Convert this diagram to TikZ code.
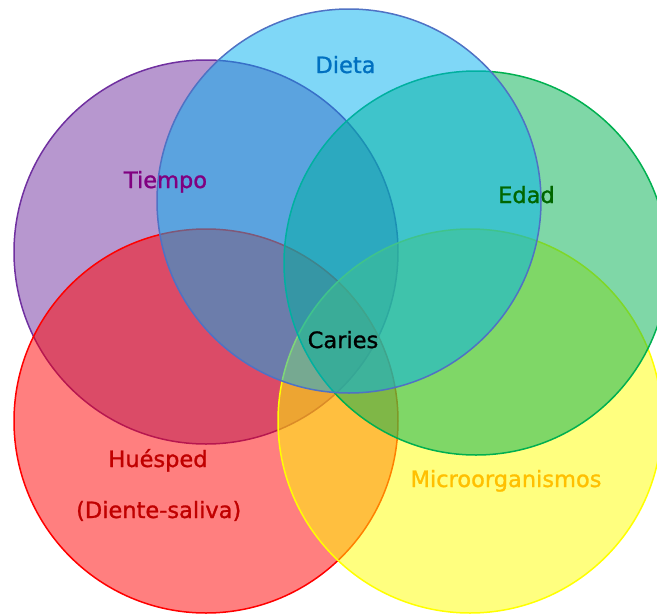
\documentclass[tikz,border=0pt]{standalone}
\usepackage{fontspec}
\setmainfont{DejaVu Sans}
\newfontfamily\lblfont[FakeBold=1.2]{DejaVu Sans}
\definecolor{cpurple}{HTML}{7030A0}
\definecolor{fpurple}{HTML}{7030A0}
\definecolor{cred}{HTML}{FF0000}
\definecolor{cyellow}{HTML}{FFFF00}
\definecolor{cgreen}{HTML}{00B050}
\definecolor{fblue}{HTML}{00B0F0}
\definecolor{cblue}{HTML}{4F72C4}
\definecolor{tdieta}{HTML}{0070C0}
\definecolor{ttiempo}{HTML}{800080}
\definecolor{tedad}{HTML}{006600}
\definecolor{thuesped}{HTML}{C00000}
\definecolor{tmicro}{HTML}{FFC000}
\begin{document}
\begin{tikzpicture}[x=1pt,y=-1pt,
  venn/.style={circle, minimum size=384pt, inner sep=0pt, line width=1.5pt, fill opacity=0.5, draw opacity=1},
  lbl/.style={anchor=base, inner sep=0pt, font=\lblfont\fontsize{22.5pt}{27pt}\selectfont}]
\useasboundingbox (0,0) rectangle (657,614);
\clip (0,0) rectangle (657,614);
\node[venn, draw=cpurple, fill=fpurple] (tiempoc) at (206,252) {};
\node[venn, draw=cred, fill=cred] (huespedc) at (206,421) {};
\node[venn, draw=cyellow, fill=cyellow] (microc) at (470,421) {};
\node[venn, draw=cgreen, fill=cgreen] (edadc) at (476,263) {};
\node[venn, draw=cblue, fill=fblue] (dietac) at (349,201) {};
\node[lbl, text=tdieta] (dieta) at (345.5,73) {Dieta};
\node[lbl, text=ttiempo] (tiempo) at (165.5,188) {Tiempo};
\node[lbl, text=tedad] (edad) at (526.5,203) {Edad};
\node[lbl, text=black] (caries) at (343,348) {Caries};
\node[lbl, text=thuesped] (huesped) at (158,467) {Huésped};
\node[lbl, text=thuesped] (diente) at (158.7,518) {(Diente-saliva)};
\node[lbl, text=tmicro] (micro) at (506,487) {Microorganismos};
\end{tikzpicture}
\end{document}
